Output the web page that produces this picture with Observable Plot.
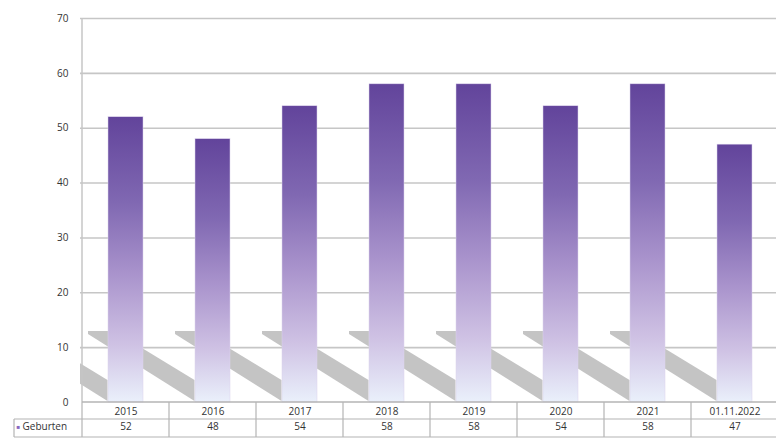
<!DOCTYPE html>
<html>
<head>
<meta charset="utf-8">
<script src="https://cdn.jsdelivr.net/npm/d3@7"></script>
<script src="https://cdn.jsdelivr.net/npm/@observablehq/plot@0.6"></script>
<style>
  html, body { margin: 0; padding: 0; background: #fff; overflow: hidden; }
  #chart { width: 776px; height: 438px; overflow: hidden; }
</style>
</head>
<body>
<div id="chart"></div>
<script>
// ---- data ----
const years = ["2015", "2016", "2017", "2018", "2019", "2020", "2021", "01.11.2022"];
const births = [52, 48, 54, 58, 58, 54, 58, 47];
const yTicks = [0, 10, 20, 30, 40, 50, 60, 70];
const seriesName = "Geburten";

const data = years.map((year, i) => ({year, value: births[i]}));

const NS = "http://www.w3.org/2000/svg";
const gridColor = "#c6c6c6";
const tableColor = "#b4b4b4";

// gradient definitions
function defsMark() {
  const defs = document.createElementNS(NS, "defs");
  defs.innerHTML = `
    <linearGradient id="barGrad" x1="0" y1="0" x2="0" y2="1">
      <stop offset="0" stop-color="#62449b"/>
      <stop offset="0.3" stop-color="#8068b2"/>
      <stop offset="0.55" stop-color="#a993cc"/>
      <stop offset="0.8" stop-color="#cfc2e4"/>
      <stop offset="1" stop-color="#eaf0fb"/>
    </linearGradient>
    <clipPath id="plotClip"><rect x="80" y="18" width="696" height="384"/></clipPath>`;
  return defs;
}

// diagonal floor shadows behind bars (derived from the band scale)
function shadowMark(index, scales) {
  const x = scales.x, y = scales.y;
  const step = x.step ? x.step() : 87.5;
  const y0 = y(0);
  const g = d3.create("svg:g").attr("clip-path", "url(#plotClip)");
  const lefts = [x(years[0]) - step].concat(years.slice(0, -1).map(c => x(c)));
  const shape = [[-20, -71], [6, -71], [step - 0.5, -22], [step - 0.5, -1], [-20, -68]];
  for (const bx of lefts) {
    g.append("polygon")
      .attr("points", shape.map(([dx, dy]) => `${bx + dx},${y0 + dy}`).join(" "))
      .attr("fill", "#c4c4c4");
  }
  return g.node();
}

// table grid below the plot + left axis line
function tableMark(index, scales) {
  const x = scales.x, y = scales.y;
  const step = x.step ? x.step() : 87.5;
  const bw = x.bandwidth ? x.bandwidth() : 35;
  const y0 = y(0);
  const g = d3.create("svg:g").attr("stroke", tableColor).attr("stroke-width", 1.2).attr("fill", "none");
  const pad = (step - bw) / 2;
  const bounds = years.map(c => x(c) - pad).concat([x(years[years.length - 1]) + bw + pad]);
  // left axis line
  g.append("line").attr("x1", bounds[0]).attr("x2", bounds[0]).attr("y1", y(70)).attr("y2", y0)
    .attr("stroke", gridColor).attr("stroke-width", 1.5);
  for (const b of bounds) {
    g.append("line").attr("x1", b).attr("x2", b).attr("y1", y0).attr("y2", y0 + 35);
  }
  const legendLeft = bounds[0] - 68;
  g.append("line").attr("x1", legendLeft).attr("x2", legendLeft).attr("y1", y0 + 17).attr("y2", y0 + 35);
  g.append("line").attr("x1", bounds[0]).attr("x2", bounds[bounds.length - 1]).attr("y1", y0).attr("y2", y0)
    .attr("stroke-width", 1.5);
  g.append("line").attr("x1", legendLeft).attr("x2", bounds[bounds.length - 1]).attr("y1", y0 + 17).attr("y2", y0 + 17);
  g.append("line").attr("x1", legendLeft).attr("x2", bounds[bounds.length - 1]).attr("y1", y0 + 35).attr("y2", y0 + 35);
  return g.node();
}

const chart = Plot.plot({
  width: 776,
  height: 438,
  marginTop: 18,
  marginBottom: 36,
  marginLeft: 80,
  marginRight: 0,
  style: {fontFamily: "'Open Sans', sans-serif", fontSize: "10px", color: "#333", background: "#fff"},
  x: {domain: years, range: [80, 780], paddingInner: 0.6, paddingOuter: 0.3, tickSize: 0, tickPadding: 5, label: null},
  y: {domain: [0, 70], ticks: yTicks, tickSize: 0, tickPadding: 12, label: null},
  marks: [
    defsMark,
    Plot.ruleY(yTicks.filter(t => t > 0), {stroke: gridColor, strokeWidth: 1.6}),
    shadowMark,
    Plot.barY(data, {x: "year", y: "value", fill: "url(#barGrad)", stroke: "#dcd2ec", strokeWidth: 0.5}),
    tableMark,
    Plot.text(data, {x: "year", text: d => String(d.value), frameAnchor: "bottom", dy: 27, fill: "#333"}),
    Plot.text(["■"], {frameAnchor: "bottom-left", dx: -64, dy: 26.5, fill: "#8a68c0", fontSize: 6, textAnchor: "start"}),
    Plot.text([seriesName], {frameAnchor: "bottom-left", dx: -58, dy: 27, textAnchor: "start", fill: "#333"})
  ]
});

document.getElementById("chart").append(chart);
</script>
</body>
</html>
